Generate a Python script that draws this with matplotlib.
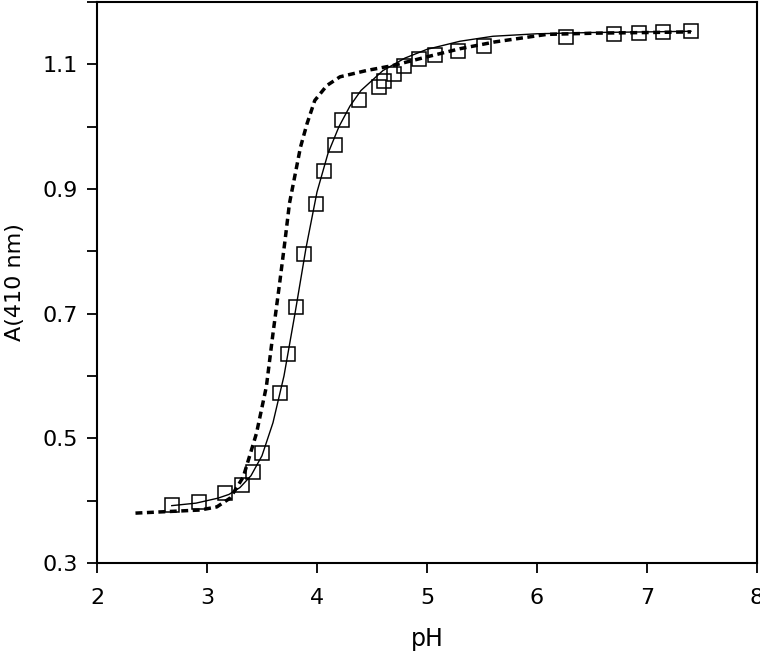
import matplotlib
matplotlib.use("Agg")
import matplotlib.pyplot as plt
from matplotlib.ticker import MultipleLocator

# measured points (open squares)
ph_data = [2.68, 2.93, 3.16, 3.32, 3.42, 3.50, 3.66, 3.74, 3.81, 3.88, 3.99,
           4.06, 4.16, 4.23, 4.38, 4.56, 4.61, 4.70, 4.79, 4.93, 5.07, 5.28,
           5.52, 6.26, 6.70, 6.93, 7.15, 7.40]
a_data = [0.393, 0.398, 0.412, 0.425, 0.446, 0.477, 0.572, 0.636, 0.711, 0.795, 0.876,
          0.929, 0.971, 1.011, 1.042, 1.064, 1.074, 1.084, 1.097, 1.108, 1.115, 1.122,
          1.130, 1.144, 1.149, 1.151, 1.152, 1.153]

# fitted curve (solid)
ph_fit = [2.68, 2.90, 3.10, 3.20, 3.30, 3.40, 3.50, 3.60, 3.70, 3.80, 3.90,
          4.00, 4.10, 4.20, 4.30, 4.40, 4.60, 4.80, 5.00, 5.30, 5.60, 6.00,
          6.50, 7.00, 7.40]
a_fit = [0.392, 0.396, 0.404, 0.410, 0.421, 0.440, 0.472, 0.525, 0.600, 0.700, 0.805,
         0.895, 0.957, 1.000, 1.033, 1.058, 1.090, 1.110, 1.124, 1.137, 1.145, 1.149,
         1.151, 1.152, 1.153]

# second curve (dotted)
ph_dot = [2.35, 2.94, 3.09, 3.21, 3.33, 3.45, 3.54, 3.60, 3.66, 3.71, 3.75,
          3.85, 3.91, 3.98, 4.09, 4.21, 4.45, 4.69, 5.00, 5.30, 5.62, 6.09,
          6.54, 7.00, 7.40]
a_dot = [0.380, 0.385, 0.390, 0.404, 0.438, 0.508, 0.583, 0.668, 0.748, 0.818, 0.877,
         0.967, 1.005, 1.042, 1.066, 1.080, 1.090, 1.098, 1.112, 1.125, 1.136, 1.148,
         1.150, 1.151, 1.152]

plt.rcParams['font.family'] = 'DejaVu Sans'

fig = plt.figure(figsize=(7.6, 6.59), dpi=100)
ax = fig.add_axes([0.1276, 0.1457, 0.8684, 0.8513])

ax.plot(ph_dot, a_dot, color='black', lw=2.5, linestyle=(0, (2, 1.3)))
ax.plot(ph_fit, a_fit, color='black', lw=1)
ax.plot(ph_data, a_data, linestyle='none', marker='s', markersize=10,
        markerfacecolor='none', markeredgecolor='black', markeredgewidth=1.1)

ax.set_xlim(2, 8)
ax.set_ylim(0.3, 1.2)
ax.xaxis.set_major_locator(MultipleLocator(1))
ax.set_yticks([0.3, 0.5, 0.7, 0.9, 1.1])
ax.set_yticklabels(['0.3', '0.5', '0.7', '0.9', '1.1'])
ax.yaxis.set_minor_locator(MultipleLocator(0.1))

ax.tick_params(axis='both', which='both', direction='out', length=7, width=1.3,
               labelsize=16, pad=7)
ax.tick_params(axis='x', pad=11)
for sp in ax.spines.values():
    sp.set_linewidth(1.5)

ax.set_xlabel('pH', fontsize=17, labelpad=14)
ax.set_ylabel('A(410 nm)', fontsize=16, labelpad=12)

fig.savefig('out.png', dpi=100)
